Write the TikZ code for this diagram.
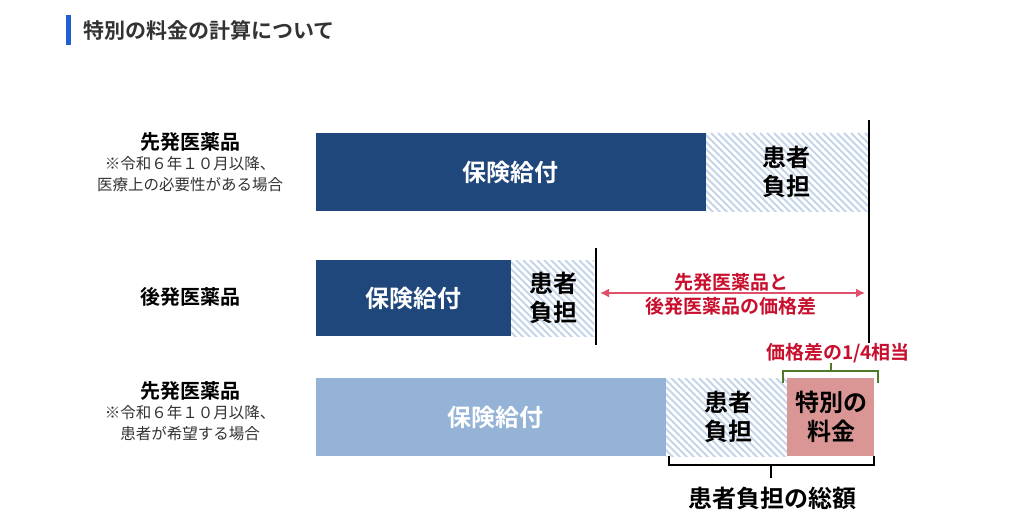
\documentclass[tikz,border=0pt]{standalone}
\usetikzlibrary{arrows.meta}
\usepackage{fontspec}
\setmainfont{Noto Sans CJK JP}
\newfontfamily\jpb{Noto Sans CJK JP Bold}
\begin{document}
\begin{tikzpicture}[x=1pt,y=-1pt,
  lbl/.style={font=\jpb\fontsize{24}{29}\selectfont,align=center},
  wlbl/.style={lbl,text=white},
  side/.style={font=\jpb\fontsize{20}{24}\selectfont},
  note/.style={font=\fontsize{15.5}{18}\selectfont,text=black!80},
  redt/.style={font=\jpb\fontsize{19}{22}\selectfont,text=redc,align=center}]
\definecolor{navyc}{HTML}{1F477B}
\definecolor{lightb}{HTML}{95B3D7}
\definecolor{hatchc}{HTML}{C5D5EA}
\definecolor{pinkc}{HTML}{D99694}
\definecolor{redc}{HTML}{C8102E}
\definecolor{arrc}{HTML}{E0506A}
\definecolor{greenc}{HTML}{4F7A28}
\definecolor{titleblue}{HTML}{1F5FD0}
\useasboundingbox (0,0) rectangle (1020,532);
\fill[white] (0,0) rectangle (1020,532);
% title
\fill[titleblue] (66,15) rectangle (71,45);
\node[anchor=west,font=\jpb\fontsize{21}{24}\selectfont,text=black!80] (title) at (80,30) {特別の料金の計算について};
% hatch macro
\newcommand{\hatchbox}[4]{%
  \begin{scope}
  \clip (#1,#2) rectangle (#3,#4);
  \foreach \k in {-100,-93,...,300} {\draw[hatchc,line width=1.8pt] (#1+\k,#2) -- ++(100,100);}
  \end{scope}}
% row 1
\fill[navyc] (316,133) rectangle (706,211);
\hatchbox{706}{133}{868}{211}
\node[wlbl] (r1a) at (510,172) {保険給付};
\node[lbl] (r1b) at (786,172) {患者\\負担};
\draw[black,line width=1.3pt] (869,120) -- (869,343);
% row 2
\fill[navyc] (316,260) rectangle (511,336);
\hatchbox{511}{260}{594}{336}
\node[wlbl] (r2a) at (413,298) {保険給付};
\node[lbl] (r2b) at (553,298) {患者\\負担};
\draw[black,line width=1.3pt] (596,248) -- (596,345);
\coordinate (aL) at (600,293); \coordinate (aR) at (865,293);
\draw[arrc,line width=1.6pt,{Latex[length=9pt,width=9pt]}-{Latex[length=9pt,width=9pt]}] (aL) -- (aR);
\node[redt] (dt1) at (731,282) {先発医薬品と};
\node[redt] (dt2) at (731,306) {後発医薬品の価格差};
% row 3
\fill[lightb] (316,378) rectangle (666,456);
\hatchbox{666}{378}{787}{456}
\fill[pinkc] (787,378) rectangle (874,456);
\node[wlbl] (r3a) at (495,417) {保険給付};
\node[lbl] (r3b) at (728,417) {患者\\負担};
\node[lbl] (r3c) at (831,417) {特別の\\料金};
% green bracket
\draw[greenc,line width=2.5pt] (783,383) -- (783,371) -- (878,371) -- (878,383);
\draw[greenc,line width=2.5pt] (831,371) -- (831,363);
\node[redt] (q) at (838,353) {価格差の1/4相当};
% black bracket
\draw[black,line width=2.5pt] (669,456) -- (669,465) -- (874,465) -- (874,456);
\draw[black,line width=2.5pt] (771,465) -- (771,478);
\node[lbl] (tot) at (772,498) {患者負担の総額};
% side labels
\node[side] (s1) at (190,142) {先発医薬品};
\node[note] (n1) at (190,164) {※令和６年１０月以降、};
\node[note] (n2) at (190,185) {医療上の必要性がある場合};
\node[side] (s2) at (190,297) {後発医薬品};
\node[side] (s3) at (190,391) {先発医薬品};
\node[note] (n3) at (190,413) {※令和６年１０月以降、};
\node[note] (n4) at (190,434) {患者が希望する場合};
\end{tikzpicture}
\end{document}
